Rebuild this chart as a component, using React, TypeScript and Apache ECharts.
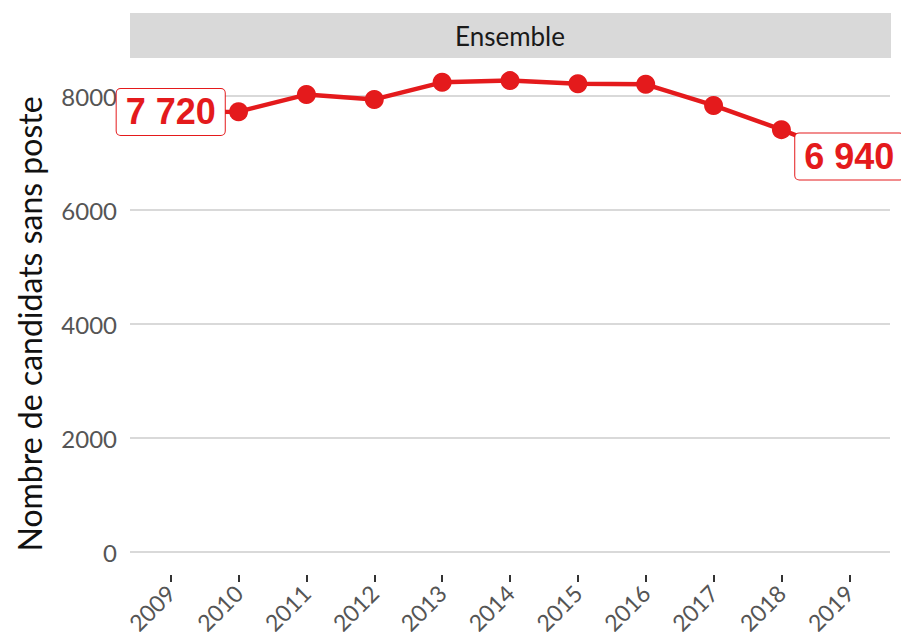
import React, { useEffect, useRef } from "react";
import * as echarts from "echarts";

const years = [2009, 2010, 2011, 2012, 2013, 2014, 2015, 2016, 2017, 2018, 2019];
const values = [7720, 7725, 8025, 7940, 8240, 8270, 8215, 8205, 7835, 7410, 6940];
const yTicks = [0, 2000, 4000, 6000, 8000];
const panelTitle = "Ensemble";
const yTitle = "Nombre de candidats sans poste";

const RED = "#e41a1c";
const fmt = (v: number) => String(v).replace(/\B(?=(\d{3})+(?!\d))/g, " ");

export default function App() {
  const ref = useRef<HTMLDivElement>(null);
  useEffect(() => {
    if (!ref.current) return;
    const chart = echarts.init(ref.current, null, { renderer: "svg" });
    const last = values.length - 1;
    const labelStyle = {
      show: true,
      position: "inside",
      formatter: (p: any) => fmt(p.value[1]),
      fontFamily: "Liberation Sans, Arial, sans-serif",
      fontSize: 36,
      fontWeight: "bold",
      color: RED,
      backgroundColor: "#ffffff",
      borderColor: RED,
      borderWidth: 1,
      borderRadius: 4,
      padding: [5, 9, 5, 9],
      lineHeight: 36,
    };
    const data = years.map((y, i) => ({
      value: [y, values[i]],
      label: i === 0 || i === last ? labelStyle : { show: false },
    }));
    chart.setOption({
      animation: false,
      backgroundColor: "#ffffff",
      grid: {
        left: 130,
        right: 11,
        top: 96,
        bottom: 80,
        containLabel: false,
        outerBoundsMode: "none",
      },
      graphic: [
        {
          type: "rect",
          shape: { x: 130, y: 13, width: 761, height: 45 },
          style: { fill: "#d9d9d9" },
          silent: true,
        },
        {
          type: "text",
          x: 510,
          y: 35.5,
          style: {
            text: panelTitle,
            align: "center",
            verticalAlign: "middle",
            fontFamily: "Lato, sans-serif",
            fontSize: 26,
            fill: "#1a1a1a",
          },
          silent: true,
        },
      ],
      xAxis: {
        type: "value",
        min: 2008.4,
        max: 2019.6,
        offset: 23,
        axisLine: { show: false, onZero: false },
        splitLine: { show: false },
        axisTick: {
          show: true,
          customValues: years,
          length: 7,
          lineStyle: { color: "#333333", width: 2 },
        },
        axisLabel: {
          customValues: years,
          formatter: (v: number) => String(v),
          rotate: 45,
          margin: 14,
          fontFamily: "Lato, sans-serif",
          fontSize: 23,
          color: "#555555",
        },
      },
      yAxis: {
        type: "value",
        min: 0,
        max: 8000,
        interval: 2000,
        name: yTitle,
        nameLocation: "middle",
        nameRotate: 90,
        nameGap: 85,
        nameTextStyle: {
          fontFamily: "Lato, sans-serif",
          fontSize: 32,
          color: "#111111",
        },
        axisLine: { show: false },
        axisTick: { show: false },
        splitLine: { show: true, lineStyle: { color: "#d9d9d9", width: 2 } },
        axisLabel: {
          formatter: (v: number) => (yTicks.includes(v) ? String(v) : ""),
          margin: 13,
          fontFamily: "Lato, sans-serif",
          fontSize: 24,
          color: "#555555",
        },
      },
      series: [
        {
          type: "line",
          data,
          clip: false,
          symbol: "circle",
          symbolSize: 19,
          itemStyle: { color: RED },
          lineStyle: { color: RED, width: 4.5 },
          z: 3,
        },
      ],
    });
    return () => chart.dispose();
  }, []);
  return (
    <div
      ref={ref}
      style={{ position: "absolute", left: 0, top: 0, width: 901, height: 632 }}
    />
  );
}
